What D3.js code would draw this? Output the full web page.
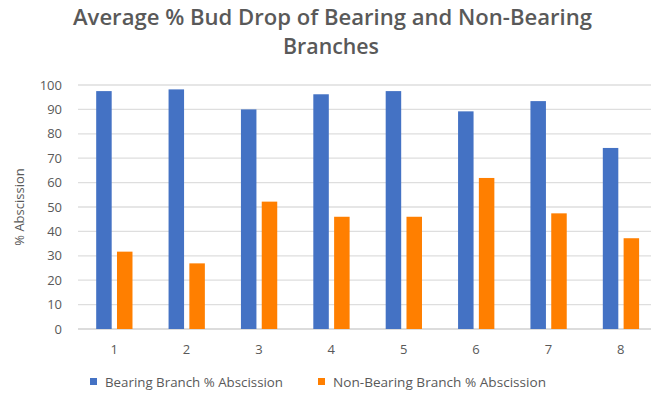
<!DOCTYPE html>
<html><head><meta charset="utf-8">
<script src="https://cdn.jsdelivr.net/npm/d3@7"></script>
<style>body{margin:0;background:#fff;} text{font-family:"Open Sans","Liberation Sans",sans-serif;}</style>
</head><body>
<svg id="c" width="651" height="395"></svg>
<script>
const categories = ["1","2","3","4","5","6","7","8"];
const bearing = [97.5, 98.2, 90.0, 96.2, 97.5, 89.2, 93.4, 74.2];
const nonBearing = [31.7, 26.9, 52.2, 46.0, 46.0, 61.9, 47.4, 37.2];
const yTicks = [0,10,20,30,40,50,60,70,80,90,100];
const seriesNames = ["Bearing Branch % Abscission", "Non-Bearing Branch % Abscission"];
const colors = ["#4472C4", "#FF7F00"];

const svg = d3.select("#c");
const x = d3.scaleBand().domain(categories).range([78, 657]);
const y = d3.scaleLinear().domain([0,100]).range([329, 85]);
const textColor = "#595959";

// gridlines
svg.append("g").selectAll("line").data(yTicks).join("line")
  .attr("x1", 78).attr("x2", 657)
  .attr("y1", d => y(d)).attr("y2", d => y(d))
  .attr("stroke", d => d === 0 ? "#d0d0d0" : "#dedede").attr("stroke-width", 1.3);

// y tick labels
svg.append("g").selectAll("text").data(yTicks).join("text")
  .attr("x", 62).attr("y", d => y(d)).attr("dy", "0.35em")
  .attr("text-anchor", "end").attr("font-size", 13).attr("fill", textColor)
  .text(d => d);

const bw = 15.5;
const sets = [bearing, nonBearing];
sets.forEach((vals, si) => {
  svg.append("g").selectAll("rect").data(vals).join("rect")
    .attr("x", (d,i) => x(categories[i]) + x.bandwidth()/2 + (si === 0 ? -bw - 2.5 : 2.8))
    .attr("y", d => y(d))
    .attr("width", bw)
    .attr("height", d => y(0) - y(d))
    .attr("fill", colors[si]);
});

// x labels
svg.append("g").selectAll("text").data(categories).join("text")
  .attr("x", d => x(d) + x.bandwidth()/2).attr("y", 354)
  .attr("text-anchor", "middle").attr("font-size", 13).attr("fill", textColor)
  .text(d => d);

// title
svg.append("text").attr("x", 73).attr("y", 25)
  .attr("font-size", 21).attr("font-weight", 600).attr("fill", textColor)
  .attr("textLength", 519).attr("lengthAdjust", "spacingAndGlyphs")
  .text("Average % Bud Drop of Bearing and Non-Bearing");
svg.append("text").attr("x", 283).attr("y", 54)
  .attr("font-size", 21).attr("font-weight", 600).attr("fill", textColor)
  .attr("textLength", 96).attr("lengthAdjust", "spacingAndGlyphs")
  .text("Branches");

// y axis title
svg.append("text").attr("transform", "translate(24,207) rotate(-90)")
  .attr("text-anchor", "middle").attr("font-size", 13).attr("fill", textColor)
  .text("% Abscission");

// legend
const legX = [90, 318];
const legLen = [178, 213];
seriesNames.forEach((n, i) => {
  svg.append("rect").attr("x", legX[i]).attr("y", 378).attr("width", 7).attr("height", 7).attr("fill", colors[i]);
  svg.append("text").attr("x", legX[i] + 15).attr("y", 387).attr("font-size", 13)
    .attr("textLength", legLen[i]).attr("lengthAdjust", "spacingAndGlyphs")
    .attr("fill", textColor).text(n);
});
</script>
</body></html>
